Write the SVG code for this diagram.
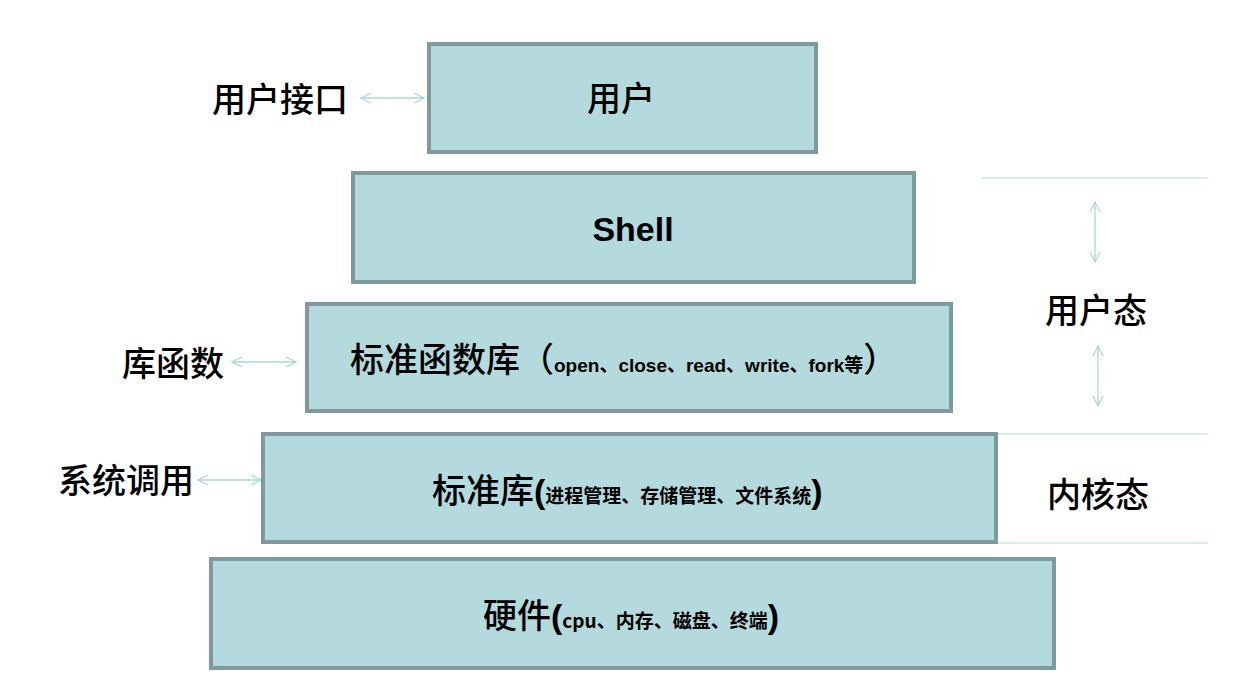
<svg xmlns="http://www.w3.org/2000/svg" width="1250" height="681" viewBox="0 0 1250 681">
<style>
.box{fill:#b4dade;stroke:#7e9a9c;stroke-width:4}
.big{font-family:"Liberation Sans","Noto Sans CJK SC",sans-serif;font-size:34px;fill:#000}
.lbl{font-family:"Noto Sans CJK SC","Liberation Sans",sans-serif;font-size:34px;font-weight:500;fill:#000}
.sm{font-size:19px;font-weight:bold}
.conn{stroke:#a9d6da;stroke-width:1.3;fill:none}
.rule{stroke:#b4dade;stroke-width:1.2}
</style>
<defs>
<marker id="ah" viewBox="0 0 12 12" refX="11" refY="6" markerWidth="12" markerHeight="12" markerUnits="userSpaceOnUse" orient="auto-start-reverse">
<path d="M1,1 L11,6 L1,11" fill="none" stroke="#a9d6da" stroke-width="1.2"/>
</marker>
</defs>
<g id="connectors">
<line class="conn" x1="361" y1="98" x2="424" y2="98" marker-start="url(#ah)" marker-end="url(#ah)"/>
<line class="conn" x1="232" y1="362" x2="296" y2="362" marker-start="url(#ah)" marker-end="url(#ah)"/>
<line class="conn" x1="198" y1="480" x2="261" y2="480" marker-start="url(#ah)" marker-end="url(#ah)"/>
<line class="conn" x1="1095" y1="202" x2="1095" y2="262" marker-start="url(#ah)" marker-end="url(#ah)"/>
<line class="conn" x1="1098" y1="346" x2="1098" y2="406" marker-start="url(#ah)" marker-end="url(#ah)"/>
<line class="rule" x1="982" y1="178" x2="1208" y2="178"/>
<line class="rule" x1="983" y1="434" x2="1208" y2="434"/>
<line class="rule" x1="985" y1="543" x2="1208" y2="543"/>
</g>
<g id="n-user">
<rect class="box" x="429" y="44" width="387" height="108"/>
<text class="lbl" x="621" y="111" text-anchor="middle">用户</text>
</g>
<g id="n-shell">
<rect class="box" x="353" y="173" width="561" height="109"/>
<text class="big" x="633" y="241" text-anchor="middle" font-weight="bold">Shell</text>
</g>
<g id="n-lib">
<rect class="box" x="307" y="304" width="644" height="107"/>
<text class="lbl" x="350" y="372">标准函数库（<tspan class="sm" font-family="Liberation Sans,Noto Sans CJK SC,sans-serif">open、close、read、write、fork等</tspan>）</text>
</g>
<g id="n-stdlib">
<rect class="box" x="263" y="434" width="733" height="108"/>
<text class="lbl" x="432" y="503">标准库<tspan font-family="Liberation Sans" font-weight="bold">(</tspan><tspan class="sm">进程管理、存储管理、文件系统</tspan><tspan font-family="Liberation Sans" font-weight="bold">)</tspan></text>
</g>
<g id="n-hw">
<rect class="box" x="211" y="559" width="843" height="109"/>
<text class="lbl" x="483" y="628">硬件<tspan font-family="Liberation Sans" font-weight="bold">(</tspan><tspan class="sm">cpu、内存、磁盘、终端</tspan><tspan font-family="Liberation Sans" font-weight="bold">)</tspan></text>
</g>
<g id="n-labels">
<text class="lbl" x="212" y="112">用户接口</text>
<text class="lbl" x="122" y="376">库函数</text>
<text class="lbl" x="58" y="493">系统调用</text>
<text class="lbl" x="1045" y="323">用户态</text>
<text class="lbl" x="1047" y="507">内核态</text>
</g>
</svg>
